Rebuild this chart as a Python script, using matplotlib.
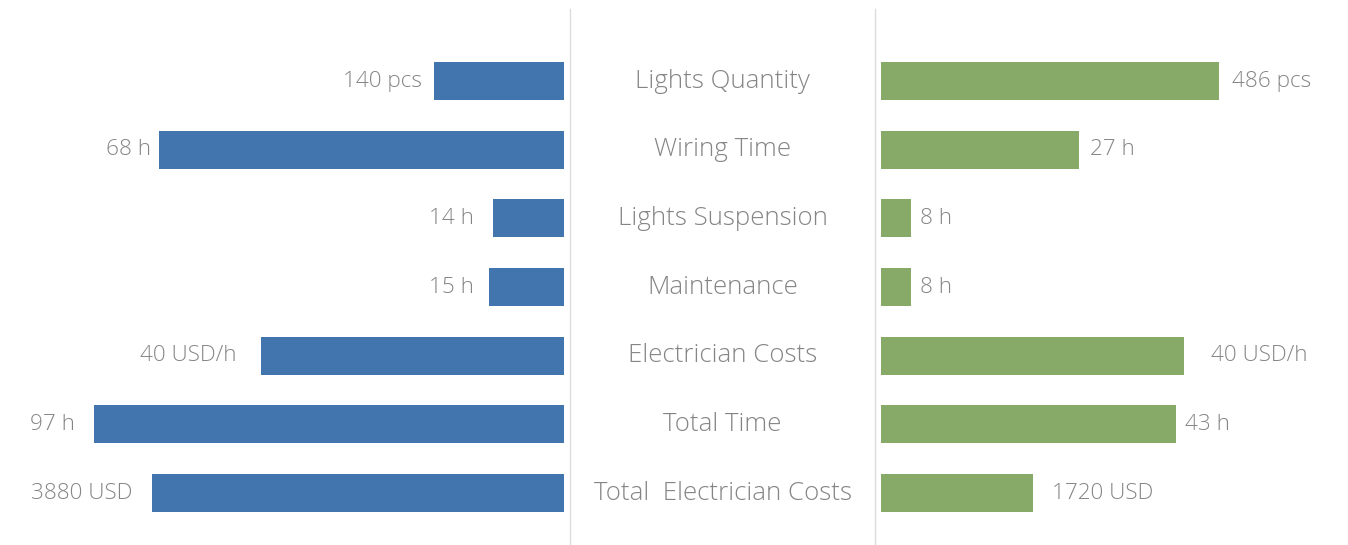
import matplotlib.pyplot as plt

# rows, top to bottom
categories = ['Lights Quantity', 'Wiring Time', 'Lights Suspension', 'Maintenance',
              'Electrician Costs', 'Total Time', 'Total  Electrician Costs']
left_labels = ['140 pcs', '68 h', '14 h', '15 h', '40 USD/h', '97 h', '3880 USD']
right_labels = ['486 pcs', '27 h', '8 h', '8 h', '40 USD/h', '43 h', '1720 USD']
# bar lengths (display units)
left_len = [130, 405, 71, 75, 303, 470, 412]
right_len = [338, 198, 30, 30, 303, 295, 152]

W, H = 1348, 545
blue = '#4275ae'
green = '#87aa68'
txt = '#858585'
grid = '#dcdcdc'
font = dict(family=['Open Sans', 'DejaVu Sans'], weight=300, color=txt)
cat_size = 18.6
val_size = 16.2

fig = plt.figure(figsize=(W / 100, H / 100), dpi=100)

row0, row_h = 81, 68.67
ylim = ((H - row0) / row_h, -row0 / row_h)
ys = list(range(len(categories)))
bar_h = 38 / row_h

# left panel, bars grow leftwards
axl = fig.add_axes([0, 0, 564 / W, 1])
axl.barh(ys, left_len, height=bar_h, color=blue)
axl.set_xlim(564, 0)
axl.set_ylim(*ylim)
lpad = [12, 8, 19, 15, 24, 19, 20]
for y, v, s, p in zip(ys, left_len, left_labels, lpad):
    axl.text(v + p, y, s, ha='right', va='center', fontsize=val_size, **font)

# right panel
axr = fig.add_axes([881 / W, 0, (W - 881) / W, 1])
axr.barh(ys, right_len, height=bar_h, color=green)
axr.set_xlim(0, W - 881)
axr.set_ylim(*ylim)
rpad = [13, 11, 9, 9, 27, 9, 19]
for y, v, s, p in zip(ys, right_len, right_labels, rpad):
    axr.text(v + p, y, s, ha='left', va='center', fontsize=val_size, **font)

# middle column with category names and separators
axc = fig.add_axes([570 / W, 0, 305 / W, 1])
axc.set_xlim(0, 1)
axc.set_ylim(*ylim)
for y, c in zip(ys, categories):
    axc.text(0.5, y, c, ha='center', va='center', fontsize=cat_size, **font)
for x in (0, 1):
    axc.axvline(x, ymin=0, ymax=(H - 9) / H, color=grid, lw=1, clip_on=False)

for ax in (axl, axr, axc):
    ax.axis('off')

fig.savefig('out.png', dpi=100)
